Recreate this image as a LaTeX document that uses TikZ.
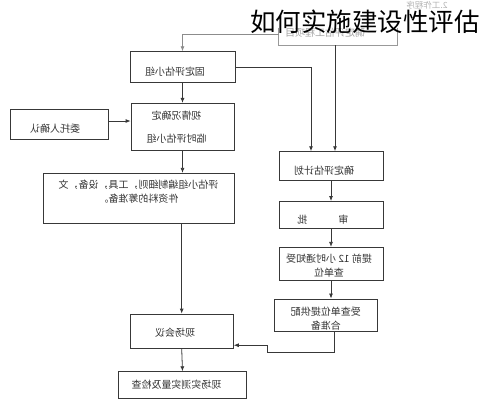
\documentclass[tikz,border=0pt]{standalone}
\usepackage{fontspec}
\usepackage{graphicx}
\usetikzlibrary{arrows.meta}
\usetikzlibrary{positioning}
\usetikzlibrary{calc}
\newfontfamily\cjk{Noto Sans CJK SC}
% mirrored box text (the whole chart is printed mirrored)
\newcommand{\mirtext}[2][0pt]{\reflectbox{\hspace*{#1}\begin{tabular}{@{}c@{}}#2\end{tabular}}}

\begin{document}
\begin{tikzpicture}[x=1pt,y=-1pt,
  box/.style={draw=black!78, line width=0.8pt, inner sep=0pt, text=black!80,
    font=\cjk\fontsize{10}{14}\selectfont},
  boxsize/.style 2 args={minimum width=#1pt, minimum height=#2pt},
  textpos/.style 2 args={text height=#1pt, text depth=#2pt},
  arr/.style={-{Latex[length=5pt,width=4pt]}, draw=black!78, line width=0.8pt}]

  \useasboundingbox (0,0) rectangle (483,400);

  % left column
  \node[box, boxsize={105}{31}, textpos={17.4}{2}] (gdpg) at (182.5,67.2)
    {\mirtext[15pt]{固定评估小组}};
  \node[box, boxsize={103}{46.7}, textpos={20}{12}] (lspg) at (182.5,126.7)
    {\mirtext[12pt]{视情况确定\\[9pt]临时评估小组}};
  \node[box, boxsize={98}{30}, textpos={19}{2}] (wtr) at (59,124)
    {\mirtext[8pt]{委托人确认}};
  \node[box, boxsize={191}{50}, textpos={4}{10.2}] (bzxz) at (138.5,198.3)
    {\mirtext{评估小组编制细则，工具，设备，文\\件资料的筹准备。}};
  \node[box, boxsize={103.3}{34.3}, textpos={12.6}{2}] (xchy) at (181.7,331.2)
    {\mirtext[13pt]{现场会议}};
  \node[box, boxsize={128.4}{26.6}, textpos={8.4}{2}] (xcsc) at (182.5,385)
    {\mirtext[12pt]{现场实测实量及检查}};

  % right column
  \node[box, boxsize={104}{28.3}, textpos={18.4}{2}] (qdjh) at (331,165.8)
    {\mirtext[14pt]{确定评估计划}};
  \node[box, boxsize={104}{26.5}, textpos={19}{2}] (sp) at (331,214.7)
    {\mirtext[16pt]{审\hspace*{31pt}批}};
  \node[box, boxsize={104}{33.4}, textpos={14}{3.6}] (tq) at (331,264)
    {\mirtext[4pt]{提前 12 小时通知受\\查单位}};
  \node[box, boxsize={103.7}{32.7}, textpos={15.4}{2}] (scdw) at (325.8,315.3)
    {\mirtext{受查单位提供配\\合准备}};

  % faint top box, open at the top
  \node[box, draw=none, text=black!35, boxsize={118}{22}, textpos={6.4}{2}] (dqpg) at (338,34)
    {\mirtext[26pt]{确定评估工程项目}};
  \draw[black!40, line width=0.8pt] ([yshift=-5pt]dqpg.north west) -- (dqpg.south west)
    -- (dqpg.south east) -- ([yshift=-5pt]dqpg.north east);
  \node[inner sep=0pt, text=black!30, font=\cjk\fontsize{8.5}{10}\selectfont] (prog) at (427,5)
    {\reflectbox{2.工作程序}};

  % title
  \node[inner sep=0pt, font=\cjk\fontsize{25.5}{30}\selectfont] (title) at (365,22)
    {如何实施建设性评估};

  % connectors
  \coordinate (dqpgout) at ($(dqpg.south)+(-3,0)$);
  \coordinate (wtrout)  at ($(wtr.east)+(0,-3)$);
  \coordinate (scdwout) at ($(scdw.south)+(9,0)$);
  \coordinate (jog)     at (267,352);
  \coordinate (xchyin)  at ($(xchy.east)+(0,14)$);

  \draw[arr, draw=black!45] (dqpg.west) -| (gdpg.north);
  \draw[arr] (dqpgout) -- (dqpgout |- qdjh.north);
  \draw[arr] (gdpg.east) -| ($(qdjh.north)+(-20,0)$);
  \draw[arr] (gdpg.south) -- (lspg.north);
  \draw[arr] (wtrout) -- (wtrout -| lspg.west);
  \draw[arr] (lspg.south) -- (lspg.south |- bzxz.north);
  \draw[arr] (xchy.north |- bzxz.south) -- (xchy.north);
  \draw[arr] (qdjh.south) -- (sp.north);
  \draw[arr] (sp.south) -- (tq.north);
  \draw[arr] (tq.south) -- (tq.south |- scdw.north);
  \draw[arr] (scdwout) |- (jog) |- (xchyin);
  \draw[arr] (xchy.south) -- (xcsc.north);

\end{tikzpicture}
\end{document}
